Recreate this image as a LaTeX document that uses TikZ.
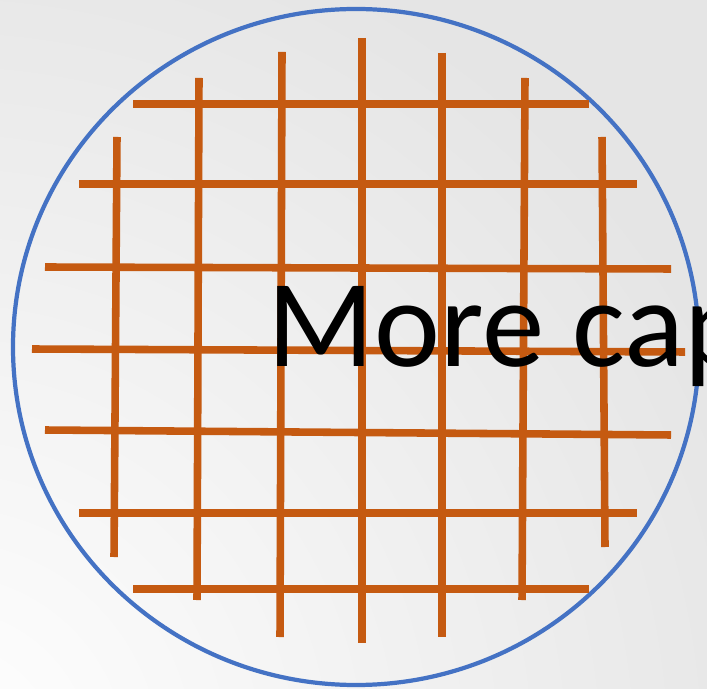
\documentclass[tikz,border=0pt]{standalone}
\usepackage{fontspec}
\setmainfont{Carlito}
\usepackage{xcolor}
\usepackage{tikz}
\definecolor{rasterorange}{HTML}{C55A11}
\definecolor{waferblue}{HTML}{4472C4}
\definecolor{latar}{HTML}{E5E5E5}

\begin{document}
\begin{tikzpicture}[
    x=0.01cm, y=-0.01cm,
    garis/.style={draw=rasterorange, line width=2.15pt},
    tepi/.style={draw=waferblue, line width=1.2pt},
    judul/.style={anchor=base west, inner sep=0pt, font=\fontsize{35.5pt}{40pt}\selectfont}
  ]
    \useasboundingbox (0,0) rectangle (707,689);
    \clip (0,0) rectangle (707,689);
    \fill[inner color=white, outer color=latar] (-940,-120) rectangle (820,1640);
    % wafer
    \draw[tepi] (356,347) ellipse [x radius=343, y radius=338];
    % vertical lines
    \draw[garis] (117,137) -- (114,557);
    \draw[garis] (199,78) -- (197,600);
    \draw[garis] (282,52) -- (280,637);
    \draw[garis] (362,38) -- (362,643);
    \draw[garis] (442,53) -- (442,637);
    \draw[garis] (525,78) -- (522,600);
    \draw[garis] (602,137) -- (605,547);
    % horizontal lines
    \draw[garis] (133,104) -- (589,104);
    \draw[garis] (79,184) -- (637,184);
    \draw[garis] (45,267) -- (671,269);
    \draw[garis] (32,349) -- (685,352);
    \draw[garis] (45,430) -- (671,435);
    \draw[garis] (79,513) -- (637,513);
    \draw[garis] (133,589) -- (589,589);
    \node[judul] (teks) at (267,367) {More cap};
  \end{tikzpicture}
\end{document}
